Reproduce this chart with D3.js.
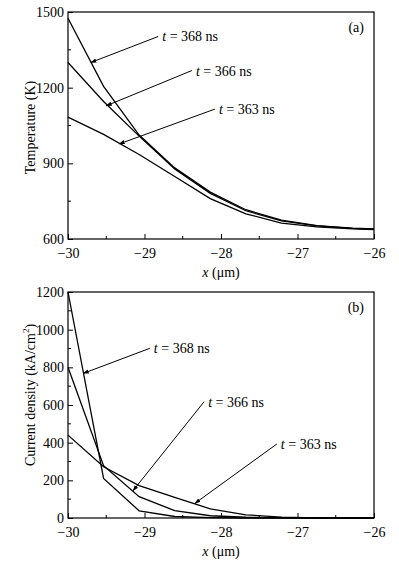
<!DOCTYPE html>
<html>
<head>
<meta charset="utf-8">
<script src="https://cdn.jsdelivr.net/npm/d3@7"></script>
<style>
  body { margin: 0; background: #fff; }
  svg, svg text { font-family: "Liberation Serif", "Times New Roman", serif; }
</style>
</head>
<body>
<svg id="chart" width="399" height="571"></svg>
<script>
// x grid (um) shared by all curves
const xs = [-30, -29.535, -29.07, -28.605, -28.14, -27.675, -27.21, -26.745, -26.28, -26];

// panel (a) temperature, K
const temp368 = [1475, 1205, 1012, 882, 786, 716, 675, 653, 643, 640];
const temp366 = [1300, 1145, 1008, 878, 781, 712, 672, 652, 642, 639];
const temp363 = [1083, 1015, 935, 848, 760, 700, 663, 648, 640, 637];

// panel (b) current density, kA/cm2
const cur368 = [1200, 210, 38, 8, 2, 0, 0, 0, 0, 0];
const cur366 = [800, 278, 113, 39, 12, 4, 1, 0, 0, 0];
const cur363 = [440, 272, 172, 110, 48, 17, 5, 1, 0, 0];

const xTicks = [-30, -29, -28, -27, -26];
const tempTicks = [600, 900, 1200, 1500];
const curTicks = [0, 200, 400, 600, 800, 1000, 1200];

// annotations: label, arrow tail [x, y], arrow head [x, y] in data units
const tempNotes = [
  { t: "368", tail: [-28.82, 1403], head: [-29.70, 1300] },
  { t: "366", tail: [-28.38, 1268], head: [-29.50, 1128] },
  { t: "363", tail: [-28.08, 1115], head: [-29.33, 977] }
];
const curNotes = [
  { t: "368", tail: [-28.93, 901], head: [-29.80, 768] },
  { t: "366", tail: [-28.22, 618], head: [-29.15, 145] },
  { t: "363", tail: [-27.27, 393], head: [-28.34, 78] }
];

const FONT = "Liberation Serif";
const svg = d3.select("#chart").attr("font-family", FONT);

svg.append("defs").append("marker")
  .attr("id", "head")
  .attr("viewBox", "0 0 10 10")
  .attr("refX", 9).attr("refY", 5)
  .attr("markerWidth", 6).attr("markerHeight", 6)
  .attr("markerUnits", "userSpaceOnUse")
  .attr("orient", "auto")
  .append("path")
  .attr("d", "M0,1.5 L10,5 L0,8.5 Z")
  .attr("fill", "#000");

function panel(opts) {
  const { top, bottom, yDomain, yTicks, yMinor, series, notes, tag, yTitle, titleShift } = opts;
  const left = 68, right = 374;
  const x = d3.scaleLinear().domain([-30, -26]).range([left, right]);
  const y = d3.scaleLinear().domain(yDomain).range([bottom, top]);
  const g = svg.append("g").attr("font-family", FONT);

  // frame
  g.append("rect")
    .attr("x", left).attr("y", top)
    .attr("width", right - left).attr("height", bottom - top)
    .attr("fill", "none").attr("stroke", "#000").attr("stroke-width", 1.2);

  // bottom axis, ticks pointing inward
  const minorX = d3.range(-29.5, -26, 1);
  const xAxis = g.append("g").attr("transform", `translate(0,${bottom})`)
    .call(d3.axisBottom(x).tickValues(xTicks).tickSize(-5).tickPadding(9)
      .tickFormat(d => String(d).replace("-", "\u2212")));
  xAxis.attr("font-family", FONT).attr("font-size", 14);
  xAxis.select(".domain").remove();
  g.selectAll(".xminor").data(minorX).join("line")
    .attr("x1", d => x(d)).attr("x2", d => x(d))
    .attr("y1", bottom).attr("y2", bottom - 3)
    .attr("stroke", "#000");

  // left axis
  const yAxis = g.append("g").attr("transform", `translate(${left},0)`)
    .call(d3.axisLeft(y).tickValues(yTicks).tickSize(-5).tickPadding(4)
      .tickFormat(d => String(d)));
  yAxis.attr("font-family", FONT).attr("font-size", 14);
  yAxis.select(".domain").remove();
  g.selectAll(".yminor").data(yMinor).join("line")
    .attr("x1", left).attr("x2", left + 3)
    .attr("y1", d => y(d)).attr("y2", d => y(d))
    .attr("stroke", "#000");

  // curves
  const line = d3.line().x((d, i) => x(xs[i])).y(d => y(d));
  series.forEach(s => {
    g.append("path").datum(s)
      .attr("d", line)
      .attr("fill", "none").attr("stroke", "#000").attr("stroke-width", 1.3);
  });

  // arrows and labels
  notes.forEach(n => {
    g.append("line")
      .attr("x1", x(n.tail[0])).attr("y1", y(n.tail[1]))
      .attr("x2", x(n.head[0])).attr("y2", y(n.head[1]))
      .attr("stroke", "#000").attr("stroke-width", 1)
      .attr("marker-end", "url(#head)");
    const t = g.append("text")
      .attr("x", x(n.tail[0]) + 4).attr("y", y(n.tail[1]) + 5)
      .attr("font-size", 14);
    t.append("tspan").attr("font-style", "italic").text("t");
    t.append("tspan").text(` = ${n.t} ns`);
  });

  g.append("text")
    .attr("x", right - 10).attr("y", top + 20)
    .attr("text-anchor", "end").attr("font-size", 14)
    .text(tag);

  // axis titles
  const xt = g.append("text")
    .attr("x", (left + right) / 2).attr("y", bottom + 38)
    .attr("text-anchor", "middle").attr("font-size", 14);
  xt.append("tspan").attr("font-style", "italic").text("x");
  xt.append("tspan").text(" (\u03bcm)");

  const yt = g.append("text")
    .attr("transform", `translate(35,${(top + bottom) / 2 + titleShift}) rotate(-90)`)
    .attr("text-anchor", "middle").attr("font-size", 14);
  yTitle(yt);
}

panel({
  top: 12, bottom: 239,
  yDomain: [600, 1500], yTicks: tempTicks,
  yMinor: [750, 1050, 1350],
  series: [temp368, temp366, temp363],
  notes: tempNotes, tag: "(a)", titleShift: 2,
  yTitle: t => t.text("Temperature (K)")
});

panel({
  top: 292, bottom: 518,
  yDomain: [0, 1200], yTicks: curTicks,
  yMinor: [100, 300, 500, 700, 900, 1100],
  series: [cur368, cur366, cur363],
  notes: curNotes, tag: "(b)", titleShift: -10,
  yTitle: t => {
    t.append("tspan").text("Current density (kA/cm");
    t.append("tspan").attr("font-size", 9).attr("dy", -6).text("2");
    t.append("tspan").attr("dy", 6).text(")");
  }
});
</script>
</body>
</html>
